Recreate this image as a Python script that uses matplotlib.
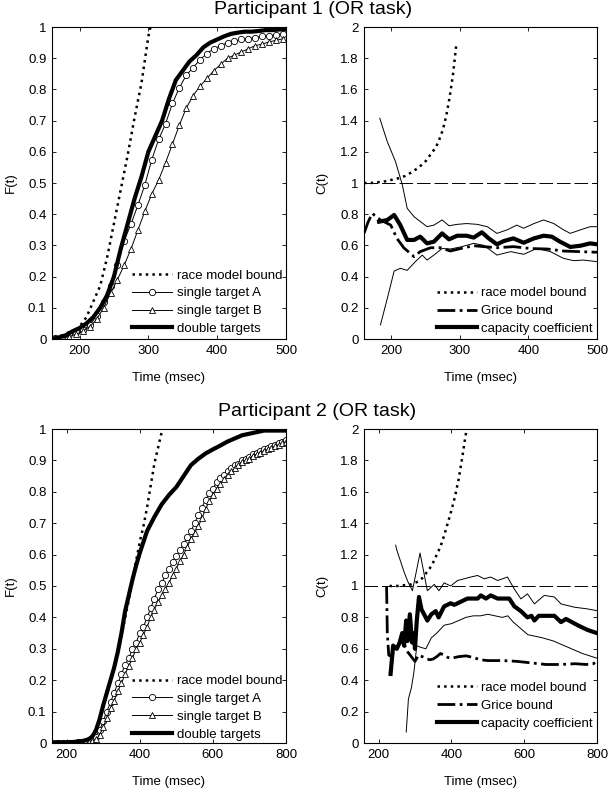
import numpy as np
import matplotlib
matplotlib.use("Agg")
import matplotlib.pyplot as plt
from matplotlib.ticker import FuncFormatter

plt.rcParams['font.family'] = ['Liberation Sans', 'DejaVu Sans']

# ---------------- Participant 1 : F(t) ----------------
p1_race_t = [160, 170, 180, 190, 200, 210, 220, 230, 240, 250, 260, 270, 280, 290, 300, 303]
p1_race_F = [0.0, 0.002, 0.008, 0.02, 0.04, 0.07, 0.12, 0.17, 0.26, 0.37, 0.48, 0.59, 0.71, 0.82, 0.97, 1.0]

p1_double_t = [160, 170, 180, 190, 200, 210, 220, 230, 240, 250, 260, 270, 280, 290, 300,
               310, 320, 330, 340, 350, 360, 370, 380, 390, 400, 410, 420, 430, 440, 450,
               460, 470, 480, 490, 500]
p1_double_F = [0.0, 0.005, 0.012, 0.025, 0.035, 0.05, 0.07, 0.10, 0.14, 0.20, 0.29, 0.37, 0.45,
               0.52, 0.60, 0.65, 0.70, 0.77, 0.83, 0.86, 0.89, 0.91, 0.935, 0.95, 0.96, 0.97,
               0.978, 0.982, 0.985, 0.985, 0.987, 0.99, 0.99, 0.992, 0.993]

p1_single_t = [165, 175, 185, 195, 205, 215, 225, 235, 245, 255, 265, 275, 285, 295, 305, 315,
               325, 335, 345, 355, 365, 375, 385, 395, 405, 415, 425, 435, 445, 455, 465, 475,
               485, 495]
p1_singleA_F = [0.003, 0.008, 0.015, 0.022, 0.03, 0.045, 0.075, 0.12, 0.17, 0.237, 0.315, 0.37,
                0.43, 0.495, 0.575, 0.64, 0.69, 0.755, 0.805, 0.845, 0.87, 0.895, 0.915, 0.93,
                0.94, 0.95, 0.955, 0.96, 0.963, 0.966, 0.97, 0.972, 0.975, 0.978]
p1_singleB_F = [0.002, 0.004, 0.008, 0.015, 0.025, 0.04, 0.063, 0.10, 0.146, 0.19, 0.237, 0.29,
                0.35, 0.41, 0.465, 0.51, 0.565, 0.625, 0.685, 0.74, 0.78, 0.81, 0.835, 0.86,
                0.88, 0.90, 0.91, 0.92, 0.93, 0.94, 0.945, 0.952, 0.957, 0.962]

# ---------------- Participant 1 : C(t) ----------------
p1_crace_t = [160, 170, 180, 190, 200, 210, 220, 230, 240, 250, 260, 265, 270, 275, 280, 285, 290, 295]
p1_crace_C = [1.0, 1.0, 1.005, 1.01, 1.02, 1.03, 1.045, 1.07, 1.10, 1.14, 1.20, 1.23, 1.28, 1.34,
              1.43, 1.55, 1.70, 1.90]

p1_grice_t = [160, 166, 172, 184, 199, 208, 218, 233, 242, 257, 272, 286, 301, 320, 335, 354,
              378, 403, 427, 451, 475, 500]
p1_grice_C = [0.677, 0.75, 0.805, 0.763, 0.73, 0.645, 0.585, 0.528, 0.56, 0.585, 0.585, 0.564,
              0.58, 0.598, 0.592, 0.585, 0.592, 0.58, 0.577, 0.564, 0.56, 0.556]

p1_cap_t = [182, 194, 204, 213, 223, 233, 242, 252, 262, 274, 284, 296, 310, 320, 332, 342, 354,
            364, 378, 393, 408, 422, 434, 446, 461, 476, 490, 500]
p1_cap_C = [0.752, 0.763, 0.795, 0.73, 0.635, 0.635, 0.656, 0.613, 0.624, 0.677, 0.639, 0.662,
            0.662, 0.65, 0.684, 0.645, 0.607, 0.628, 0.645, 0.617, 0.645, 0.662, 0.656, 0.624,
            0.59, 0.598, 0.613, 0.607]

p1_upper_t = [183, 194, 206, 216, 223, 233, 252, 262, 274, 284, 296, 310, 325, 340, 354, 369,
              383, 393, 408, 422, 437, 451, 461, 476, 490, 500]
p1_upper_C = [1.415, 1.265, 1.137, 0.987, 0.838, 0.784, 0.72, 0.73, 0.763, 0.726, 0.735, 0.74,
              0.735, 0.72, 0.677, 0.70, 0.73, 0.71, 0.74, 0.763, 0.74, 0.70, 0.677, 0.70, 0.72, 0.72]

p1_lower_t = [184, 194, 204, 213, 223, 235, 245, 252, 262, 274, 286, 301, 320, 335, 354, 374,
              393, 412, 432, 451, 466, 480, 500]
p1_lower_C = [0.09, 0.26, 0.436, 0.453, 0.44, 0.496, 0.538, 0.506, 0.538, 0.58, 0.577, 0.59,
              0.613, 0.60, 0.538, 0.56, 0.543, 0.58, 0.56, 0.517, 0.502, 0.506, 0.496]

# ---------------- Participant 2 : F(t) ----------------
p2_race_t = [160, 200, 240, 260, 270, 280, 290, 300, 310, 320, 330, 340, 350, 360, 370, 380,
             390, 400, 410, 420, 430, 440, 450, 460, 463]
p2_race_F = [0.0, 0.0, 0.002, 0.01, 0.025, 0.045, 0.07, 0.11, 0.155, 0.20, 0.245, 0.29, 0.34,
             0.40, 0.455, 0.52, 0.58, 0.64, 0.69, 0.75, 0.82, 0.89, 0.94, 0.99, 1.0]

p2_double_t = [160, 200, 240, 260, 270, 280, 290, 300, 310, 320, 330, 340, 350, 360, 370, 380,
               390, 400, 420, 440, 460, 480, 500, 520, 540, 560, 580, 600, 620, 640, 660, 680,
               700, 720, 740, 800]
p2_double_F = [0.0, 0.002, 0.005, 0.012, 0.02, 0.04, 0.075, 0.12, 0.16, 0.20, 0.24, 0.29, 0.35,
               0.42, 0.47, 0.52, 0.565, 0.605, 0.675, 0.72, 0.76, 0.79, 0.815, 0.85, 0.885,
               0.905, 0.922, 0.935, 0.947, 0.96, 0.97, 0.98, 0.985, 0.99, 0.995, 0.995]

p2_single_t = list(range(160, 801, 10))
p2_singleA_F = [0.0, 0.0, 0.0, 0.0, 0.0, 0.001, 0.001, 0.002, 0.002, 0.003, 0.005, 0.01, 0.02,
                0.04, 0.07, 0.10, 0.13, 0.16, 0.19, 0.22, 0.25, 0.27, 0.30, 0.32, 0.35, 0.37,
                0.40, 0.43, 0.46, 0.49, 0.51, 0.535, 0.555, 0.575, 0.595, 0.615, 0.635, 0.655,
                0.675, 0.70, 0.725, 0.75, 0.775, 0.795, 0.81, 0.83, 0.845, 0.855, 0.865, 0.875,
                0.885, 0.89, 0.90, 0.905, 0.91, 0.92, 0.925, 0.93, 0.935, 0.94, 0.945, 0.95,
                0.955, 0.96, 0.965]
p2_singleB_F = [0.0, 0.0, 0.0, 0.0, 0.0, 0.0, 0.001, 0.001, 0.001, 0.002, 0.003, 0.006, 0.012,
                0.025, 0.05, 0.08, 0.11, 0.135, 0.165, 0.19, 0.22, 0.245, 0.27, 0.30, 0.32,
                0.345, 0.37, 0.40, 0.425, 0.45, 0.47, 0.49, 0.51, 0.535, 0.555, 0.58, 0.60,
                0.625, 0.65, 0.67, 0.69, 0.715, 0.745, 0.77, 0.79, 0.81, 0.825, 0.84, 0.855,
                0.865, 0.875, 0.885, 0.895, 0.90, 0.905, 0.915, 0.92, 0.925, 0.93, 0.935, 0.94,
                0.945, 0.95, 0.955, 0.96]

# ---------------- Participant 2 : C(t) ----------------
p2_crace_t = [230, 250, 270, 290, 300, 310, 320, 330, 340, 350, 360, 370, 380, 390, 400, 410,
              420, 430, 435, 442]
p2_crace_C = [1.0, 1.0, 1.005, 1.01, 1.02, 1.03, 1.05, 1.08, 1.11, 1.15, 1.20, 1.25, 1.32, 1.40,
              1.48, 1.57, 1.68, 1.82, 1.90, 2.0]

p2_grice_t = [222, 224, 228, 235, 245, 255, 265, 272, 280, 290, 300, 310, 320, 330, 340, 350,
              360, 370, 380, 390, 400, 420, 440, 460, 480, 500, 540, 580, 620, 660, 700, 740,
              770, 790, 800]
p2_grice_C = [1.0, 0.70, 0.56, 0.55, 0.60, 0.62, 0.70, 0.62, 0.58, 0.55, 0.52, 0.56, 0.55, 0.54,
              0.53, 0.535, 0.55, 0.57, 0.56, 0.545, 0.54, 0.55, 0.555, 0.545, 0.53, 0.525,
              0.525, 0.52, 0.51, 0.50, 0.50, 0.505, 0.50, 0.505, 0.52]

p2_cap_t = [233, 240, 250, 258, 265, 270, 276, 280, 286, 292, 297, 300, 305, 311, 318, 325,
            334, 345, 357, 365, 380, 398, 408, 426, 444, 472, 481, 495, 508, 527, 559, 573,
            591, 609, 620, 628, 640, 683, 701, 715, 747, 774, 800]
p2_cap_C = [0.44, 0.62, 0.60, 0.64, 0.70, 0.62, 0.78, 0.65, 0.82, 0.64, 0.70, 0.60, 0.78, 0.93,
            0.85, 0.82, 0.78, 0.82, 0.84, 0.80, 0.87, 0.89, 0.88, 0.90, 0.92, 0.92, 0.94, 0.92,
            0.94, 0.92, 0.92, 0.87, 0.84, 0.80, 0.81, 0.78, 0.81, 0.81, 0.77, 0.79, 0.75, 0.72,
            0.70]

p2_upper_t = [247, 250, 260, 270, 280, 293, 314, 334, 353, 366, 380, 398, 417, 435, 453, 472,
              490, 508, 527, 554, 573, 591, 609, 628, 655, 683, 701, 738, 774, 800]
p2_upper_C = [1.26, 1.23, 1.16, 1.09, 1.03, 0.97, 1.21, 0.97, 1.01, 0.97, 1.02, 1.0, 1.035,
              1.046, 1.057, 1.067, 1.046, 1.057, 1.035, 1.057, 0.98, 0.918, 0.95, 0.886, 0.94,
              0.93, 0.886, 0.865, 0.854, 0.843]

p2_lower_t = [276, 282, 290, 297, 305, 315, 330, 345, 360, 380, 400, 420, 440, 460, 480, 500,
              520, 540, 555, 570, 590, 610, 630, 650, 680, 700, 730, 760, 800]
p2_lower_C = [0.07, 0.28, 0.35, 0.45, 0.62, 0.61, 0.60, 0.67, 0.70, 0.75, 0.76, 0.78, 0.80,
              0.81, 0.81, 0.82, 0.81, 0.80, 0.81, 0.77, 0.73, 0.69, 0.68, 0.67, 0.65, 0.63,
              0.60, 0.57, 0.54]

F_labels = ["race model bound", "single target A", "single target B", "double targets"]
C_labels = ["race model bound", "Grice bound", "capacity coefficient"]
titles = ["Participant 1 (OR task)", "Participant 2 (OR task)"]
xlabel = "Time (msec)"

FS = 9.5
W, H = 609, 788
fig = plt.figure(figsize=(W / 100, H / 100), dpi=100)

def ax_at(x0, y0, x1, y1):
    return fig.add_axes([x0 / W, 1 - y1 / H, (x1 - x0) / W, (y1 - y0) / H])

fmt = FuncFormatter(lambda v, p: "%g" % round(v, 3))

def style(ax, xlim, ylim, yticks, xticks, ylab):
    ax.set_xlim(*xlim)
    ax.set_ylim(*ylim)
    ax.set_xticks(xticks)
    ax.set_yticks(yticks)
    ax.yaxis.set_major_formatter(fmt)
    ax.xaxis.set_major_formatter(fmt)
    ax.tick_params(direction='in', top=True, right=True, length=3, width=0.6,
                   labelsize=FS, pad=4)
    for s in ax.spines.values():
        s.set_linewidth(0.8)
    ax.set_xlabel(xlabel, fontsize=FS, labelpad=11)
    ax.set_ylabel(ylab, fontsize=FS, labelpad=8)

def F_panel(ax, rt, rF, dt, dF, st, sA, sB):
    ax.plot(rt, rF, color='black', linestyle=':', linewidth=1.8, label=F_labels[0])
    ax.plot(st, sA, color='black', linewidth=0.7, marker='o', markersize=4.5,
            markerfacecolor='white', markeredgewidth=0.6, label=F_labels[1])
    ax.plot(st, sB, color='black', linewidth=0.7, marker='^', markersize=4.8,
            markerfacecolor='white', markeredgewidth=0.6, label=F_labels[2])
    ax.plot(dt, dF, color='black', linewidth=3.0, label=F_labels[3])

def C_panel(ax, xmax, rt, rC, gt, gC, ct, cC, ut, uC, lt, lC):
    ax.plot([160, xmax], [1, 1], color='black', linewidth=0.7, dashes=(14, 4))
    ax.plot(rt, rC, color='black', linestyle=':', linewidth=1.8, label=C_labels[0])
    ax.plot(gt, gC, color='black', linestyle='-.', linewidth=2.0, label=C_labels[1])
    ax.plot(ct, cC, color='black', linewidth=3.0, label=C_labels[2])
    ax.plot(ut, uC, color='black', linewidth=0.7)
    ax.plot(lt, lC, color='black', linewidth=0.7)

def legend(ax, anchor_y):
    ax.legend(loc='lower right', bbox_to_anchor=(1.0, anchor_y), frameon=False,
              fontsize=FS, handlelength=3.0, handletextpad=0.35, labelspacing=0.42,
              borderpad=0.0, borderaxespad=0.3)

# Top-left
ax1 = ax_at(52, 27, 286, 339)
F_panel(ax1, p1_race_t, p1_race_F, p1_double_t, p1_double_F, p1_single_t,
        p1_singleA_F, p1_singleB_F)
style(ax1, (160, 500), (0, 1), np.arange(0, 1.01, 0.1), [200, 300, 400, 500], "F(t)")
legend(ax1, 0.0)

# Top-right
ax2 = ax_at(364, 27, 597, 339)
C_panel(ax2, 500, p1_crace_t, p1_crace_C, p1_grice_t, p1_grice_C, p1_cap_t, p1_cap_C,
        p1_upper_t, p1_upper_C, p1_lower_t, p1_lower_C)
style(ax2, (160, 500), (0, 2), np.arange(0, 2.01, 0.2), [200, 300, 400, 500], "C(t)")
legend(ax2, 0.0)

# Bottom-left
ax3 = ax_at(52, 429, 286, 743)
F_panel(ax3, p2_race_t, p2_race_F, p2_double_t, p2_double_F, p2_single_t,
        p2_singleA_F, p2_singleB_F)
style(ax3, (160, 800), (0, 1), np.arange(0, 1.01, 0.1), [200, 400, 600, 800], "F(t)")
legend(ax3, -0.005)

# Bottom-right
ax4 = ax_at(364, 429, 597, 743)
C_panel(ax4, 800, p2_crace_t, p2_crace_C, p2_grice_t, p2_grice_C, p2_cap_t, p2_cap_C,
        p2_upper_t, p2_upper_C, p2_lower_t, p2_lower_C)
style(ax4, (160, 800), (0, 2), np.arange(0, 2.01, 0.2), [200, 400, 600, 800], "C(t)")
legend(ax4, 0.03)

fig.text(313 / W, 1 - 10 / H, titles[0], ha='center', va='center', fontsize=14)
fig.text(317 / W, 1 - 412 / H, titles[1], ha='center', va='center', fontsize=14)

fig.savefig("out.png", dpi=100)
